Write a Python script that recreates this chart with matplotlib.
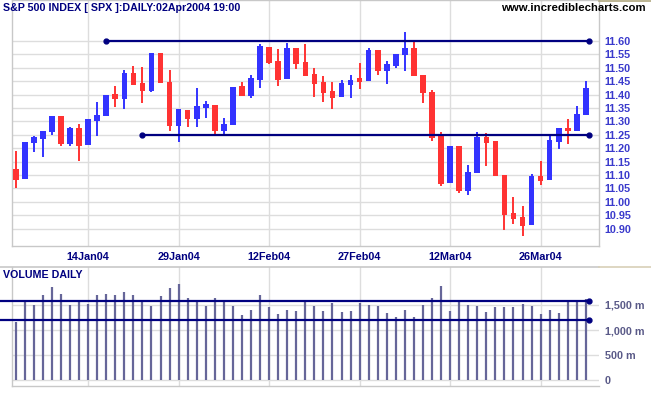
import numpy as np
import matplotlib.pyplot as plt

plt.rcParams['font.family'] = ['Liberation Sans', 'DejaVu Sans']

# daily candles, 02Jan04 .. 02Apr04 (index scale / 100)
opens = [11.121, 11.086, 11.221, 11.236, 11.262, 11.320, 11.217, 11.274, 11.213, 11.303,
         11.321, 11.401, 11.385, 11.479, 11.443, 11.413, 11.555, 11.447, 11.283, 11.343,
         11.310, 11.351, 11.361, 11.265, 11.288, 11.432, 11.394, 11.456, 11.578, 11.525,
         11.459, 11.574, 11.520, 11.477, 11.447, 11.413, 11.392, 11.437, 11.461, 11.452,
         11.565, 11.489, 11.508, 11.549, 11.574, 11.473, 11.410, 11.246, 11.071, 11.208,
         11.042, 11.109, 11.241, 11.227, 11.100, 10.958, 10.942, 10.915, 11.096, 11.083,
         11.224, 11.274, 11.265, 11.325]
highs = [11.190, 11.223, 11.246, 11.264, 11.320, 11.320, 11.278, 11.290, 11.309, 11.372,
         11.399, 11.432, 11.492, 11.507, 11.503, 11.555, 11.555, 11.492, 11.346, 11.343,
         11.425, 11.376, 11.361, 11.313, 11.428, 11.447, 11.473, 11.589, 11.578, 11.570,
         11.593, 11.574, 11.589, 11.499, 11.469, 11.447, 11.454, 11.473, 11.518, 11.573,
         11.565, 11.525, 11.551, 11.634, 11.600, 11.473, 11.417, 11.260, 11.208, 11.208,
         11.137, 11.260, 11.255, 11.227, 11.100, 11.018, 10.984, 11.104, 11.152, 11.246,
         11.274, 11.309, 11.357, 11.451]
lows = [11.053, 11.086, 11.187, 11.168, 11.250, 11.209, 11.209, 11.153, 11.213, 11.247,
        11.321, 11.355, 11.346, 11.435, 11.370, 11.411, 11.445, 11.265, 11.224, 11.279,
        11.280, 11.313, 11.250, 11.248, 11.288, 11.396, 11.387, 11.426, 11.514, 11.433,
        11.459, 11.497, 11.471, 11.392, 11.374, 11.346, 11.392, 11.389, 11.422, 11.452,
        11.474, 11.441, 11.500, 11.489, 11.471, 11.370, 11.228, 11.060, 11.071, 11.034,
        11.027, 11.109, 11.135, 11.098, 10.896, 10.918, 10.874, 10.915, 11.064, 11.083,
        11.198, 11.217, 11.265, 11.325]
closes = [11.083, 11.223, 11.241, 11.264, 11.320, 11.217, 11.274, 11.209, 11.308, 11.323,
          11.399, 11.385, 11.479, 11.437, 11.415, 11.555, 11.445, 11.283, 11.346, 11.310,
          11.356, 11.364, 11.265, 11.290, 11.428, 11.396, 11.461, 11.581, 11.517, 11.454,
          11.573, 11.515, 11.471, 11.441, 11.407, 11.389, 11.445, 11.454, 11.448, 11.566,
          11.489, 11.513, 11.551, 11.573, 11.471, 11.405, 11.239, 11.068, 11.208, 11.040,
          11.110, 11.241, 11.221, 11.098, 10.952, 10.937, 10.911, 11.096, 11.078, 11.229,
          11.274, 11.263, 11.328, 11.423]
# volume in millions
volume = [1160, 1580, 1500, 1700, 1860, 1720, 1500, 1600, 1520, 1700,
          1720, 1700, 1760, 1700, 1580, 1480, 1680, 1840, 1920, 1640,
          1600, 1480, 1640, 1580, 1480, 1300, 1400, 1700, 1460, 1320,
          1400, 1380, 1580, 1480, 1380, 1540, 1360, 1380, 1540, 1500,
          1480, 1340, 1260, 1400, 1260, 1500, 1640, 1880, 1380, 1600,
          1500, 1480, 1360, 1460, 1460, 1460, 1520, 1480, 1320, 1400,
          1340, 1580, 1580, 1620]

tick_pos = [8, 18, 28, 38, 48, 58]
tick_labels = ['14Jan04', '29Jan04', '12Feb04', '27Feb04', '12Mar04', '26Mar04']
price_ticks = [10.90, 10.95, 11.00, 11.05, 11.10, 11.15, 11.20, 11.25,
               11.30, 11.35, 11.40, 11.45, 11.50, 11.55, 11.60]
vol_ticks = [0, 500, 1000, 1500]
vol_tick_labels = ['0', '500 m', '1,000 m', '1,500 m']

# trend lines drawn on the chart
resistance = 11.60
support = 11.25
res_start = 10
sup_start = 14
line_end = 63.4
vol_levels = [1580, 1200]

navy = '#000080'
grid_c = '#dddddd'
spine_c = '#c8c8c8'

o = np.array(opens)
c = np.array(closes)
x = np.arange(len(o))
up = c >= o
cols = np.where(up, '#3333ff', '#ff3333')

fig = plt.figure(figsize=(6.51, 3.95), dpi=100)
ax = fig.add_axes([12/651, 1 - 246/395, 587/651, 246/395])
ax2 = fig.add_axes([12/651, 1 - 386/395, 587/651, 119/395])

# price panel
ax.vlines(x, lows, highs, color=cols, lw=1.4, zorder=3)
ax.bar(x, np.maximum(np.abs(c - o), 0.004), bottom=np.minimum(o, c), width=0.62,
       color=cols, zorder=3)
ax.plot([res_start, line_end], [resistance, resistance], color=navy, lw=1.6,
        marker='o', ms=3.5, zorder=4)
ax.plot([sup_start, line_end], [support, support], color=navy, lw=1.6,
        marker='o', ms=3.5, zorder=4)

ax.set_xlim(-0.41, 64.45)
ax.set_ylim(10.835, 11.753)
ax.set_yticks(price_ticks)
ax.set_yticklabels(['%.2f' % t for t in price_ticks])
ax.yaxis.tick_right()
ax.set_xticks(tick_pos)
ax.set_xticklabels(tick_labels)
ax.tick_params(axis='x', length=0, pad=4, labelsize=7.8, labelcolor=navy)
ax.tick_params(axis='y', length=0, pad=4, labelsize=7.8, labelcolor='#3a3acc')
for lab in ax.get_xticklabels() + ax.get_yticklabels():
    lab.set_fontweight('bold')
ax.grid(True, color=grid_c, lw=1.0, zorder=0)
for s in ax.spines.values():
    s.set_color(spine_c)
    s.set_linewidth(1.0)

# volume panel
ax2.vlines(x, 0, volume, color='#666699', lw=1.6, zorder=3)
for v in vol_levels:
    ax2.plot([-1.75, line_end], [v, v], color=navy, lw=1.6, marker='o', ms=3.5,
             markevery=[1], clip_on=False, zorder=4)
ax2.set_xlim(-0.41, 64.45)
ax2.set_ylim(-120, 2260)
ax2.set_xticks(tick_pos)
ax2.set_xticklabels([])
ax2.set_yticks(vol_ticks)
ax2.set_yticklabels(vol_tick_labels)
ax2.yaxis.tick_right()
ax2.tick_params(axis='both', length=0)
ax2.tick_params(axis='y', pad=4, labelsize=7.8, labelcolor='#5a5a88')
for lab in ax2.get_yticklabels():
    lab.set_fontweight('bold')
ax2.grid(True, color=grid_c, lw=1.0, zorder=0)
for s in ax2.spines.values():
    s.set_color(spine_c)
    s.set_linewidth(1.0)
ax2.spines['right'].set_visible(False)
ax2.spines['top'].set_visible(False)

# panel separators
fig.add_artist(plt.Line2D([0, 599/651], [1 - 267/395] * 2, color=spine_c, lw=1.2))
fig.add_artist(plt.Line2D([599/651, 1], [1 - 267/395] * 2, color='#d8d0b8', lw=1.2))
fig.add_artist(plt.Line2D([599/651, 1], [1 - 0.5/395] * 2, color='#b0a880', lw=1.2))

fig.text(3/651, 1 - 3/395, 'S&P 500 INDEX [ SPX ]:DAILY:02Apr2004 19:00',
         color=navy, fontsize=7.7, fontweight='bold', ha='left', va='top')
fig.text(646/651, 1 - 3/395, 'www.incrediblecharts.com',
         color='black', fontsize=8.2, fontweight='bold', ha='right', va='top')
fig.text(3/651, 1 - 270/395, 'VOLUME DAILY',
         color=navy, fontsize=7.7, fontweight='bold', ha='left', va='top')

fig.savefig('out.png', dpi=100)
